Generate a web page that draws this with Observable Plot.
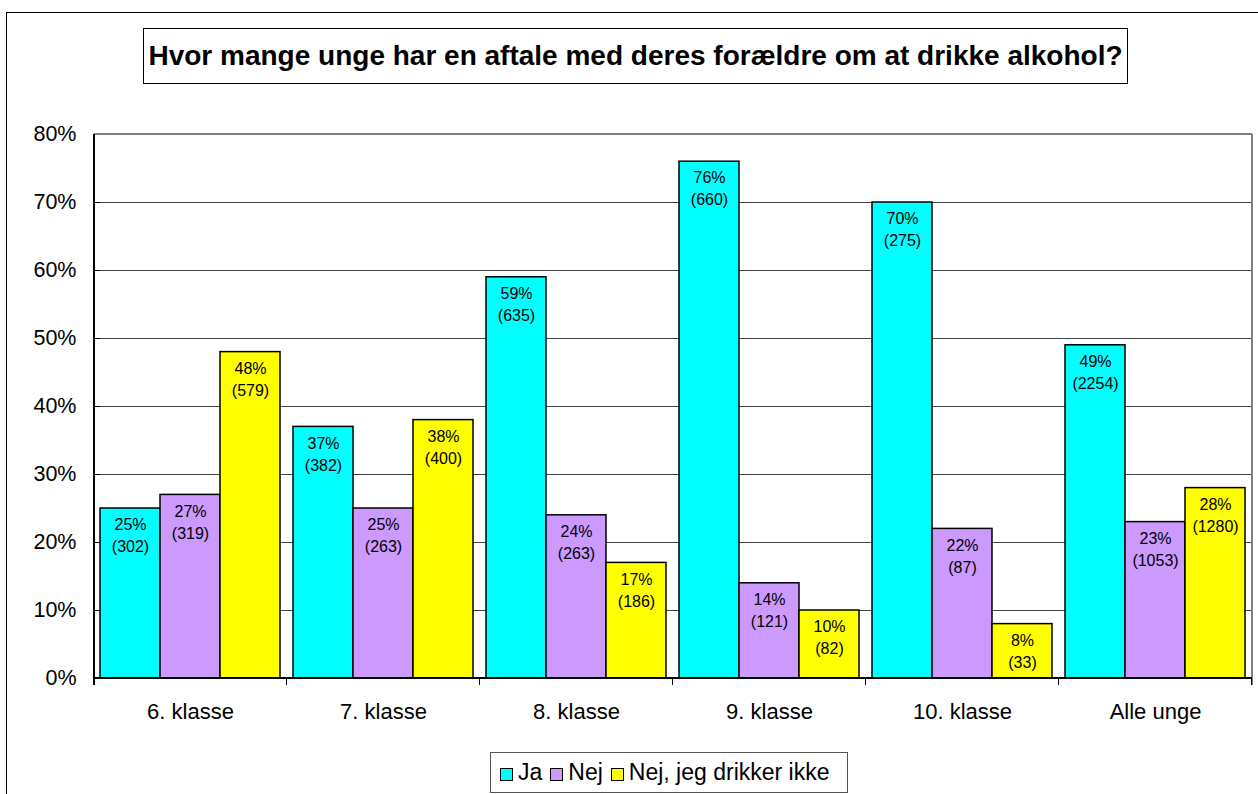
<!DOCTYPE html>
<html>
<head>
<meta charset="utf-8">
<script src="https://cdn.jsdelivr.net/npm/d3@7"></script>
<script src="https://cdn.jsdelivr.net/npm/@observablehq/plot@0.6"></script>
<style>
  html, body { margin: 0; padding: 0; background: #fff; overflow: hidden; }
  body { width: 1258px; height: 794px; position: relative; font-family: Arial, "Liberation Sans", sans-serif; }
  #frame { position: absolute; left: 6px; top: 12px; width: 1400px; height: 1000px; border-left: 1px solid #000; border-top: 1px solid #000; }
  #title { position: absolute; left: 143px; top: 28px; width: 985px; height: 56px; border: 1px solid #000; box-sizing: border-box;
           display: flex; align-items: center; justify-content: center; font-weight: bold; font-size: 28px; color: #000; background: #fff; z-index: 2; }
  #chart { position: absolute; left: 0; top: 0; z-index: 1; }
  #legend { position: absolute; left: 490px; top: 752px; width: 358px; height: 41px; border: 1px solid #555; box-sizing: border-box;
            display: flex; align-items: center; padding-left: 9px; font-size: 23px; color: #000; background: #fff; z-index: 2; }
  .item { display: flex; align-items: center; margin-right: 8px; }
  .sw { width: 11px; height: 11px; border: 1px solid #000; margin-right: 5px; margin-top: 3px; }
</style>
</head>
<body>
<div id="frame"></div>
<div id="chart"></div>
<div id="title">Hvor mange unge har en aftale med deres forældre om at drikke alkohol?</div>
<div id="legend"></div>
<script>
const categories = ["6. klasse", "7. klasse", "8. klasse", "9. klasse", "10. klasse", "Alle unge"];
const series = ["Ja", "Nej", "Nej, jeg drikker ikke"];
const colors = ["#00FFFF", "#CC99FF", "#FFFF00"];
const jaPct   = [25, 37, 59, 76, 70, 49];
const nejPct  = [27, 25, 24, 14, 22, 23];
const ikkePct = [48, 38, 17, 10, 8, 28];
const jaN   = [302, 382, 635, 660, 275, 2254];
const nejN  = [319, 263, 263, 121, 87, 1053];
const ikkeN = [579, 400, 186, 82, 33, 1280];
const yTicks = [0, 10, 20, 30, 40, 50, 60, 70, 80];

const pcts = [jaPct, nejPct, ikkePct];
const counts = [jaN, nejN, ikkeN];
const data = [];
categories.forEach((c, i) => {
  series.forEach((s, j) => {
    data.push({cat: c, series: s, pct: pcts[j][i], n: counts[j][i]});
  });
});

(function () {
const W = 1258, H = 740;
const plot = Plot.plot({
  width: W,
  height: H,
  marginLeft: 94,
  marginRight: 6,
  marginTop: 134,
  marginBottom: 62,
  style: {fontFamily: 'Arial, "Liberation Sans", sans-serif', background: "transparent", color: "#000", overflow: "visible"},
  fx: {domain: categories, paddingInner: 0.065, paddingOuter: 0.0325, label: null},
  x: {domain: series, axis: null, padding: 0},
  y: {domain: [0, 80], label: null},
  color: {domain: series, range: colors},
  marks: [
    Plot.barY(data, {fx: "cat", x: "series", y: "pct", fill: "series", stroke: "#000", strokeWidth: 1.5, inset: 0}),
    Plot.text(data, {fx: "cat", x: "series", y: "pct", text: d => `${d.pct}%\n(${d.n})`,
      lineAnchor: "top", dy: 6, fontSize: 16, lineHeight: 1.375, fill: "#000"}),
    Plot.axisY(yTicks, {anchor: "left", tickSize: 7, tickPadding: 17, fontSize: 21.5, tickFormat: d => d + "%", label: null}),
    Plot.axisFx({anchor: "bottom", tickSize: 0, tickPadding: 25, fontSize: 22, label: null})
  ]
});
document.getElementById("chart").appendChild(plot);

// Decorations derived from the plot's scales
const y = plot.scale("y");
const fx = plot.scale("fx");
const svg = d3.select(plot);
const left = 94, right = W - 6;
const y0 = y.apply(0), yTop = y.apply(80);
const g = svg.insert("g", "g").attr("shape-rendering", "crispEdges");
g.selectAll("line.grid").data(yTicks.filter(t => t > 0 && t < 80)).join("line")
  .attr("x1", left).attr("x2", right)
  .attr("y1", d => y.apply(d)).attr("y2", d => y.apply(d))
  .attr("stroke", "#444").attr("stroke-width", 1);
const deco = svg.append("g").attr("shape-rendering", "crispEdges");
deco.append("line").attr("x1", left).attr("x2", right).attr("y1", yTop).attr("y2", yTop).attr("stroke", "#808080").attr("stroke-width", 2);
deco.append("line").attr("x1", right).attr("x2", right).attr("y1", yTop).attr("y2", y0 + 7).attr("stroke", "#808080").attr("stroke-width", 2);
deco.append("line").attr("x1", left).attr("x2", left).attr("y1", yTop).attr("y2", y0 + 7).attr("stroke", "#000").attr("stroke-width", 1.5);
deco.append("line").attr("x1", left).attr("x2", right).attr("y1", y0).attr("y2", y0).attr("stroke", "#000").attr("stroke-width", 1.5);
const gap = (fx.step - fx.bandwidth) / 2;
deco.selectAll("line.bt").data(categories).join("line")
  .attr("x1", d => fx.apply(d) + fx.bandwidth + gap).attr("x2", d => fx.apply(d) + fx.bandwidth + gap)
  .attr("y1", y0).attr("y2", y0 + 7).attr("stroke", "#000").attr("stroke-width", 1);

const legend = d3.select("#legend");
series.forEach((s, j) => {
  const it = legend.append("div").attr("class", "item");
  it.append("div").attr("class", "sw").style("background", colors[j]);
  it.append("span").text(s);
});
})();
</script>
</body>
</html>
